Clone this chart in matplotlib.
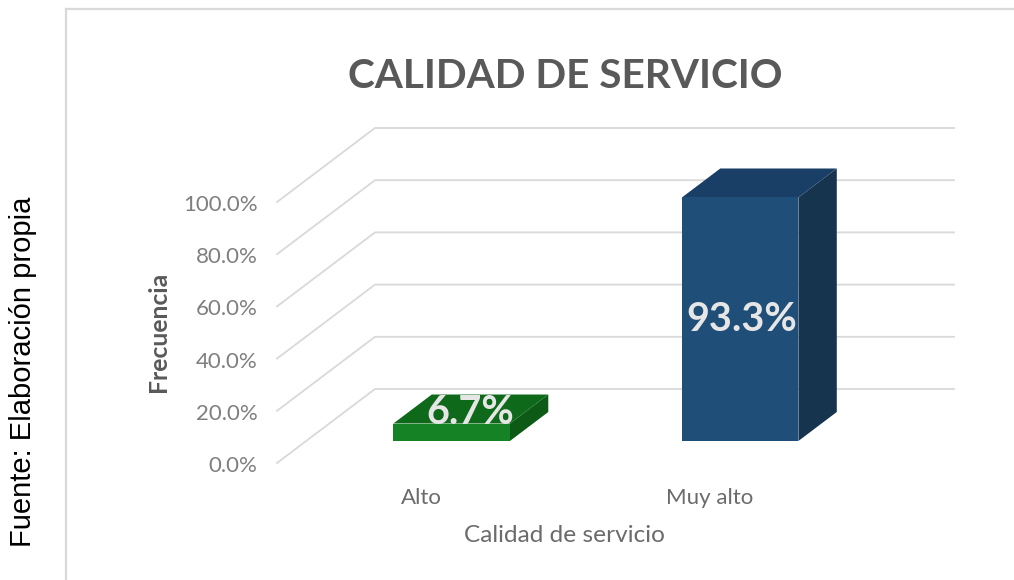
import matplotlib
matplotlib.use("Agg")
import matplotlib.pyplot as plt
from matplotlib.patches import Polygon
from matplotlib.transforms import ScaledTranslation

categories = ["Alto", "Muy alto"]
values = [6.7, 93.3]
value_labels = ["6.7%", "93.3%"]
front_colors = ["#148225", "#1F4E79"]
top_colors = ["#0E6A1A", "#1A3F66"]
side_colors = ["#0C5A16", "#17344F"]
yticks = [0, 20, 40, 60, 80, 100]
ytick_labels = ["0.0%", "20.0%", "40.0%", "60.0%", "80.0%", "100.0%"]

W, H = 1014, 580
plt.rcParams["font.family"] = ["Lato", "DejaVu Sans"]
fig = plt.figure(figsize=(W / 100, H / 100), dpi=100, facecolor="white")

# plot region in pixels
L, R, T, B = 277, 954, 127, 463
ax = fig.add_axes([L / W, 1 - B / H, (R - L) / W, (B - T) / H])
PX_X = 288.5      # pixels per category
PX_Y = 2.61       # pixels per percent
x0 = (422.5 - L) / PX_X
ax.set_xlim(-x0, (R - L) / PX_X - x0)
ax.set_ylim(0, (B - T) / PX_Y)
for s in ax.spines.values():
    s.set_visible(False)
ax.patch.set_visible(False)

def proj(x, v, depth_px):
    """Front-plane position shifted backward by depth (pixels along vertical)."""
    return (x + depth_px * (98 / 74) / PX_X, v + depth_px / PX_Y)

WALL = 74
grid = "#D9D9D9"
xl = -x0
xr = ax.get_xlim()[1] - 98 / PX_X
for t in yticks:
    a = proj(xl, t, 0)
    b = proj(xl, t, WALL)
    c = proj(xr, t, WALL)
    ax.plot([a[0], b[0], c[0]], [a[1], b[1], c[1]], color=grid, lw=1.3,
            solid_joinstyle="miter", clip_on=False, zorder=1)

BW = 116.5 / PX_X
D0, D1 = 22, 51
for i, v in enumerate(values):
    l, r = i - BW / 2, i + BW / 2
    front = [proj(l, 0, D0), proj(r, 0, D0), proj(r, v, D0), proj(l, v, D0)]
    top = [proj(l, v, D0), proj(r, v, D0), proj(r, v, D1), proj(l, v, D1)]
    side = [proj(r, 0, D0), proj(r, 0, D1), proj(r, v, D1), proj(r, v, D0)]
    ax.add_patch(Polygon(side, fc=side_colors[i], ec="none", zorder=3))
    ax.add_patch(Polygon(top, fc=top_colors[i], ec="none", zorder=3))
    ax.add_patch(Polygon(front, fc=front_colors[i], ec="none", zorder=4))

label_pos = [proj(3 / PX_X, 6.7, D0 + 11.5),
             proj(1 + 2 / PX_X, 46.5, D0)]
for i, txt in enumerate(value_labels):
    ax.text(*label_pos[i], txt, color="#E7E6E6", fontsize=28.5, fontweight="bold",
            ha="center", va="center", zorder=6)

ax.set_xticks(range(len(categories)), categories)
ax.set_yticks(yticks, ytick_labels)
ax.tick_params(axis="both", length=0)
ax.tick_params(axis="y", labelsize=16, labelcolor="#7F7F7F", pad=14)
ax.tick_params(axis="x", labelsize=16, labelcolor="#6B6B6B", pad=18)
shift_x = ScaledTranslation(-1.5 / 100, 0, fig.dpi_scale_trans)
for lab in ax.get_xticklabels():
    lab.set_transform(lab.get_transform() + shift_x)
shift_y = ScaledTranslation(0, -1 / 100, fig.dpi_scale_trans)
for lab in ax.get_yticklabels():
    lab.set_transform(lab.get_transform() + shift_y)

fig.text(565 / W, 1 - 76 / H, "CALIDAD DE SERVICIO", fontsize=29.2, fontweight="bold",
         color="#595959", ha="center", va="center")
fig.text(564.5 / W, 1 - 535 / H, "Calidad de servicio", fontsize=17.6, color="#6B6B6B",
         ha="center", va="center")
fig.text(159 / W, 1 - 332 / H, "Frecuencia", fontsize=17.8, fontweight="bold",
         color="#595959", rotation=90, ha="center", va="center")
fig.text(23 / W, 1 - 372 / H, "Fuente: Elaboración propia", fontsize=21,
         family="Liberation Sans", color="#000000", rotation=90, ha="center", va="center")

# chart frame
fig.add_artist(plt.Line2D([65.5 / W, 65.5 / W], [0, 1 - 9 / H], color="#D9D9D9", lw=1.6))
fig.add_artist(plt.Line2D([65.5 / W, 1], [1 - 9 / H, 1 - 9 / H], color="#D9D9D9", lw=1.6))

fig.savefig("out.png", dpi=100)
